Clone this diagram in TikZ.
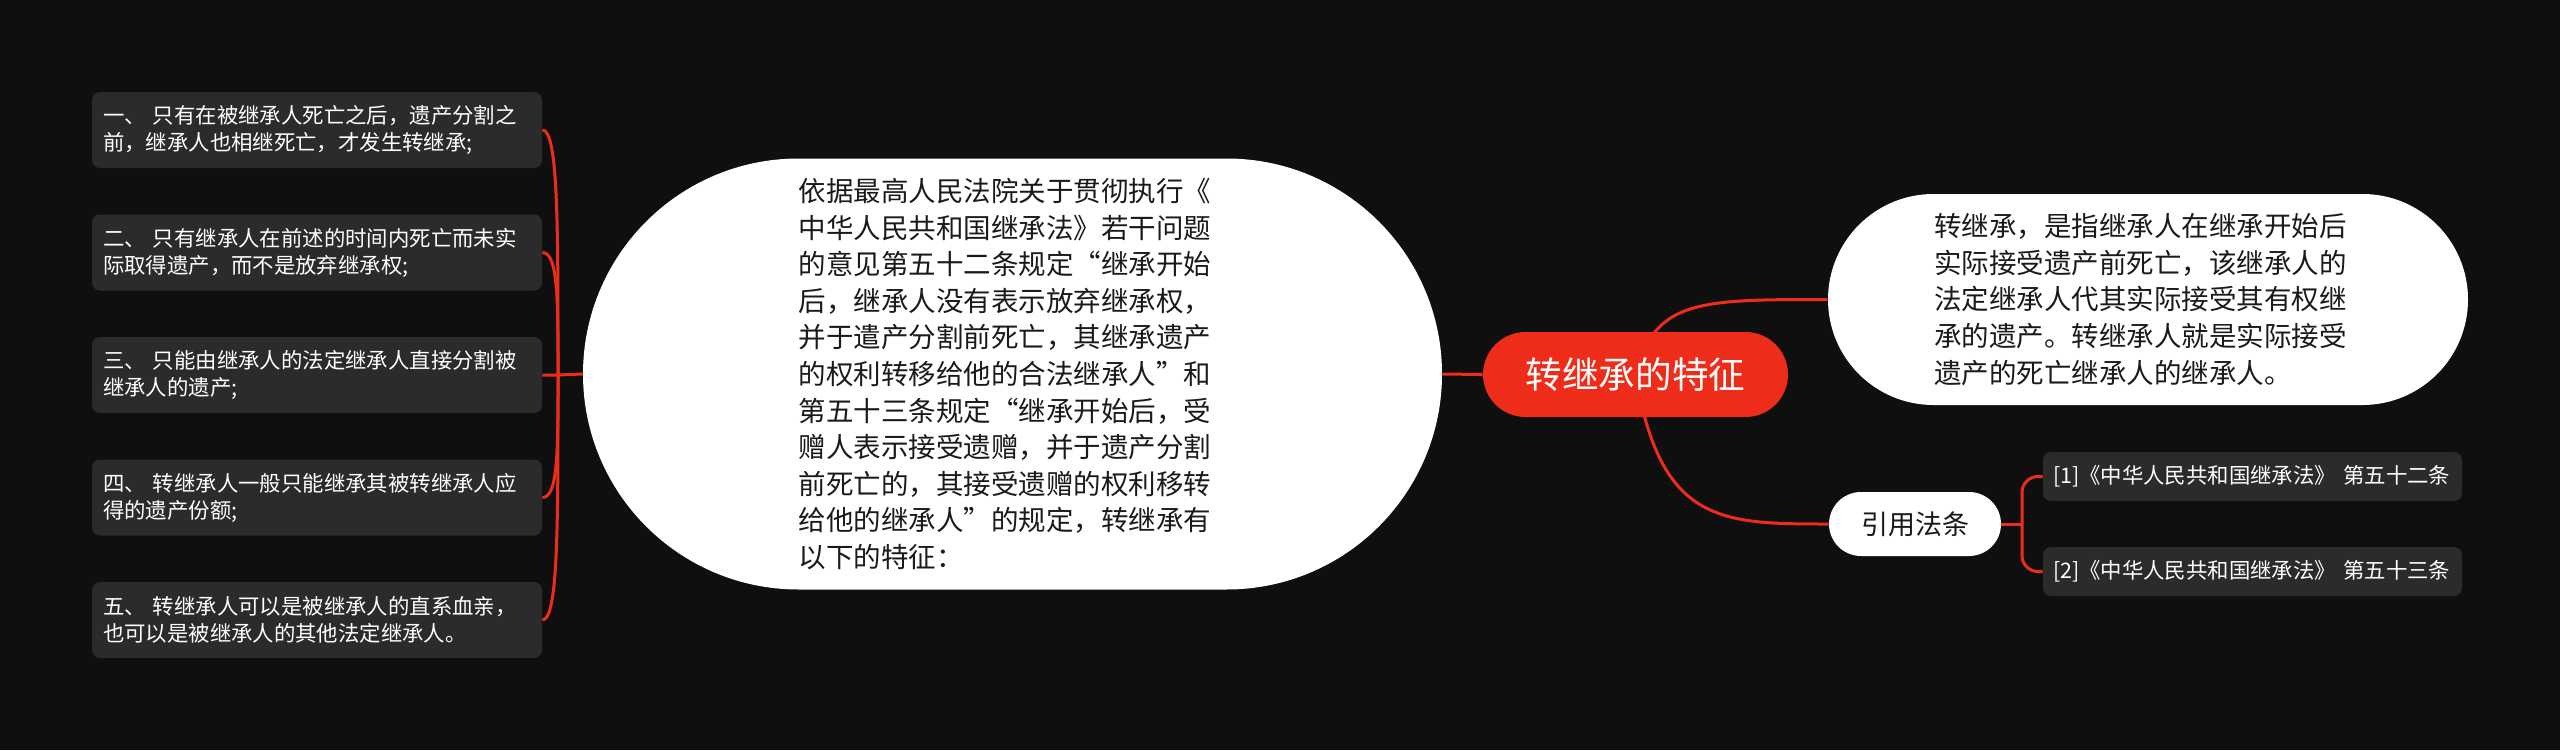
\documentclass[tikz,border=0pt]{standalone}
\usepackage{fontspec}
\setmainfont{Noto Sans CJK SC}
\usepackage{tikz}
\usetikzlibrary{shapes.misc}
\definecolor{bgdark}{RGB}{15,15,15}
\definecolor{hubred}{RGB}{238,44,26}
\definecolor{leafgrey}{RGB}{43,43,43}
\definecolor{inkdark}{RGB}{26,26,26}
\pgfdeclarelayer{canvas}
\pgfdeclarelayer{wires}
\pgfsetlayers{canvas,wires,main}

\begin{document}
\begin{tikzpicture}[x=0.5pt,y=-0.5pt,
  leaf/.style={fill=leafgrey,rounded corners=4pt,text=white,align=left,
    inner xsep=5.5pt,inner ysep=0pt,text width=214pt,minimum height=38pt,
    font=\fontsize{10.7}{13.5}\selectfont},
  refbox/.style={fill=leafgrey,rounded corners=4pt,text=white,align=left,
    inner xsep=5pt,inner ysep=0pt,text width=199.5pt,minimum height=24.5pt,
    font=\fontsize{10.7}{13.5}\selectfont},
  bubble/.style={rounded rectangle,fill=white,text=inkdark,align=left,
    inner xsep=0pt,text width=214pt,font=\fontsize{13.75}{18.3}\selectfont},
  hub/.style={rounded rectangle,fill=hubred,text=white,inner xsep=0pt,
    minimum width=152.5pt,minimum height=42.5pt,font=\fontsize{18.3}{22}\selectfont},
  link/.style={draw=hubred,line width=1.5pt}]
 \useasboundingbox (0,0) rectangle (2560,750);
 \begin{pgfonlayer}{canvas}
  \fill[bgdark] (0,0) rectangle (2560,750);
 \end{pgfonlayer}

 % centre and main branches
 \node[hub] (hub) at (1635.5,374.5) {转继承的特征};
 \node[bubble,minimum width=429.5pt,minimum height=215.5pt] (basis) at (1012.5,374) {依据最高人民法院关于贯彻执行《\\
  中华人民共和国继承法》若干问题\\
  的意见第五十二条规定“继承开始\\
  后，继承人没有表示放弃继承权，\\
  并于遣产分割前死亡，其继承遗产\\
  的权利转移给他的合法继承人”和\\
  第五十三条规定“继承开始后，受\\
  赠人表示接受遗赠，并于遗产分割\\
  前死亡的，其接受遗赠的权利移转\\
  给他的继承人”的规定，转继承有\\
  以下的特征：};
 \node[bubble,minimum width=320pt,minimum height=105.5pt] (defn) at (2148,299.5) {转继承，是指继承人在继承开始后\\
  实际接受遗产前死亡，该继承人的\\
  法定继承人代其实际接受其有权继\\
  承的遗产。转继承人就是实际接受\\
  遗产的死亡继承人的继承人。};
 \node[rounded rectangle,fill=white,text=inkdark,inner xsep=0.5pt,minimum width=87pt,
  minimum height=32pt,font=\fontsize{13.5}{16}\selectfont] (cite) at (1915,524) {引用法条};

 % features on the left
 \node[leaf] (p1) at (317,130) {一、 只有在被继承人死亡之后，遗产分割之\\前，继承人也相继死亡，才发生转继承;};
 \node[leaf] (p2) at (317,252.5) {二、 只有继承人在前述的时间内死亡而未实\\际取得遗产，而不是放弃继承权;};
 \node[leaf] (p3) at (317,375) {三、 只能由继承人的法定继承人直接分割被\\继承人的遗产;};
 \node[leaf] (p4) at (317,497.5) {四、 转继承人一般只能继承其被转继承人应\\得的遗产份额;};
 \node[leaf] (p5) at (317,620) {五、 转继承人可以是被继承人的直系血亲，\\也可以是被继承人的其他法定继承人。};

 % cited articles
 \node[refbox] (ref1) at (2252.5,476.5) {[1]《中华人民共和国继承法》 第五十二条};
 \node[refbox] (ref2) at (2252.5,571.5) {[2]《中华人民共和国继承法》 第五十三条};

 \coordinate (lj) at (558,375);
 \coordinate (cj) at (2022,524);

 \begin{pgfonlayer}{wires}
  \draw[link] (basis.east) -- (hub.west);
  \draw[link] (hub.center) .. controls +(19,-75) and +(-128,0) .. (defn.west);
  \draw[link] (hub.center) .. controls +(25,149) and +(-108,0) .. (cite.west);
  \draw[link] (basis.west) -- (lj) -- (p3.east);
  \foreach \n/\d in {p1/-147,p2/-73,p4/73,p5/147}
   \draw[link] (lj) .. controls +(0,\d) and +(16,0) .. (\n.east);
  \draw[link] (cite.east) -- (cj);
  \draw[link,rounded corners=8pt] (cj) |- (ref1.west);
  \draw[link,rounded corners=8pt] (cj) |- (ref2.west);
 \end{pgfonlayer}
\end{tikzpicture}
\end{document}
